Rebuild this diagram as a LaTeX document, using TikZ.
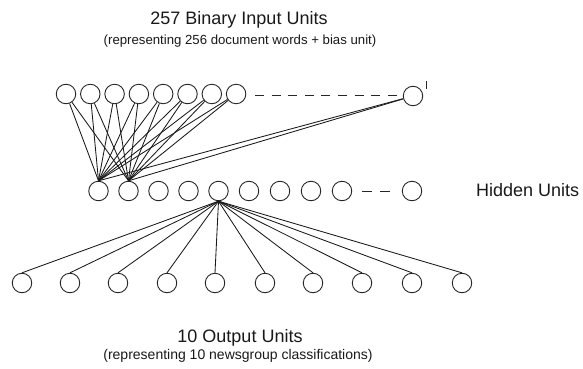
\documentclass[tikz,border=0pt]{standalone}
\usepackage{fontspec}
\setmainfont{Liberation Sans}
\begin{document}
\begin{tikzpicture}[x=1pt,y=-1pt,
  unit/.style={circle,draw=black!85,line width=0.9pt,minimum size=19.5pt,inner sep=0pt},
  link/.style={draw=black!90,line width=0.85pt},
  dots/.style={draw=black!85,line width=0.9pt,dash pattern=on 9pt off 7.6pt},
  hdots/.style={draw=black!85,line width=0.9pt,dash pattern=on 10pt off 8pt},
  title/.style={font=\fontsize{18}{20}\selectfont,text=black!90,inner sep=0pt},
  sub/.style={font=\fontsize{13.2}{16}\selectfont,text=black!90,inner sep=0pt},
  subb/.style={font=\fontsize{14}{16}\selectfont,text=black!90,inner sep=0pt}]
\useasboundingbox (0,0) rectangle (583,369);
% input units
\foreach \i/\x in {1/66,2/90.3,3/114.6,4/138.9,5/163.2,6/187.5,7/211.8,8/236.1}
  \node[unit] (i\i) at (\x,94) {};
\node[unit] (i9) at (413,96) {};
\coordinate (ida) at (255,95);
\coordinate (idb) at (397,95);
\draw[dots] (ida) -- (idb);
\coordinate (ta) at (426,81);
\coordinate (tb) at (426,89);
\draw[black!85,line width=0.8pt] (ta) -- (tb);
% hidden units
\foreach \i/\x in {1/98.5,2/128.5,3/158.5,4/188.5,5/218.5,6/249,7/280,8/311,9/342}
  \node[unit] (h\i) at (\x,191) {};
\node[unit] (h10) at (412,191) {};
\coordinate (hda) at (362,191);
\coordinate (hdb) at (390,191);
\draw[hdots] (hda) -- (hdb);
% output units
\foreach \i/\x in {1/22,2/70,3/118,4/167,5/215,6/265,7/313,8/362,9/412,10/462}
  \node[unit] (o\i) at (\x,283) {};
% input -> hidden connections
\foreach \i in {1,...,9} {
  \draw[link] (i\i) -- (h1.north);
  \draw[link] (i\i) -- (h2.north);
}
% hidden -> output connections
\foreach \i in {1,...,10}
  \draw[link] (h5.south) -- (o\i.north);
% labels
\node[title] (t1) at (239,20) {257 Binary Input Units};
\node[sub] (t2) at (240,41) {(representing 256 document words + bias unit)};
\node[title,anchor=west] (t3) at (476,190) {Hidden Units};
\node[title] (t4) at (240,338) {10 Output Units};
\node[subb] (t5) at (238,356) {(representing 10 newsgroup classifications)};
\end{tikzpicture}
\end{document}
